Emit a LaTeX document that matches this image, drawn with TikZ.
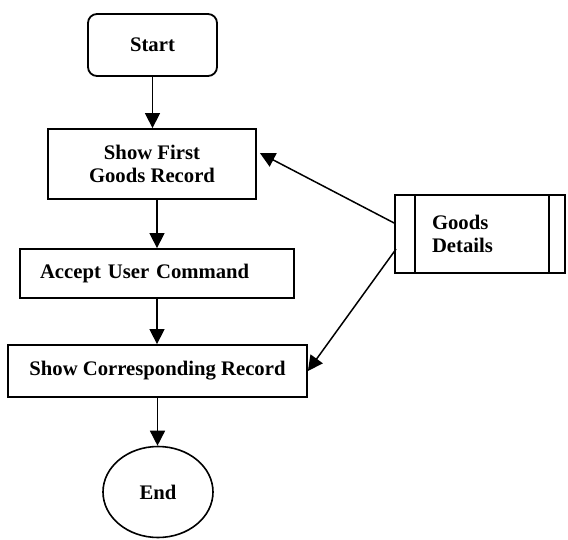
\documentclass[tikz,border=0pt]{standalone}
\usepackage{fontspec}
\setmainfont{Liberation Serif}
\usetikzlibrary{arrows.meta,shapes.geometric}
\tikzset{
	box/.style={draw,line width=1.8pt,inner sep=0pt,font=\bfseries\fontsize{20.7}{23}\selectfont},
	rbox/.style={box,rounded corners=9pt},
	ebox/.style={box,ellipse,line width=1.6pt},
	arr/.style={line width=1.5pt,-{Triangle[length=15pt,width=15pt]}}
}

\begin{document}
\begin{tikzpicture}[x=1pt,y=-1pt]
	\useasboundingbox (0,0) rectangle (568,540);
	\node [rbox,minimum width=129pt,minimum height=62pt] (start) at (152.5,45) {Start};
	\node [box,minimum width=208pt,minimum height=70pt,align=center] (first) at (152,164) {Show First\\Goods Record};
	\node [box,text width=234pt,inner xsep=20pt,align=left,minimum height=49pt] (accept) at (157,273.5) {Accept User Command};
	\node [box,minimum width=299pt,minimum height=52pt] (corr) at (157.5,371) {Show Corresponding Record};
	\node [ebox,minimum width=110pt,minimum height=91pt] (end) at (158,492) {End};
	\node [box,text width=96pt,inner xsep=37pt,align=left,minimum height=78pt] (goods) at (480,234) {Goods\\Details};

	% side bars of the data store
	\draw[line width=1.8pt] ([xshift=21pt]goods.north west) -- ([xshift=21pt]goods.south west);
	\draw[line width=1.8pt] ([xshift=-17pt]goods.north east) -- ([xshift=-17pt]goods.south east);

	\draw[arr] (start.south) -- (start.south |- first.north);
	\draw[arr] (accept.north |- first.south) -- (accept.north);
	\draw[arr] (accept.south) -- (accept.south |- corr.north);
	\draw[arr] (corr.south) -- (corr.south |- end.north);
	\draw[arr] ([yshift=11pt]goods.west) -- ([xshift=3pt,yshift=11pt]first.east);
	\draw[arr] ([xshift=2pt,yshift=-15pt]goods.west) -- (corr.east);
\end{tikzpicture}
\end{document}
